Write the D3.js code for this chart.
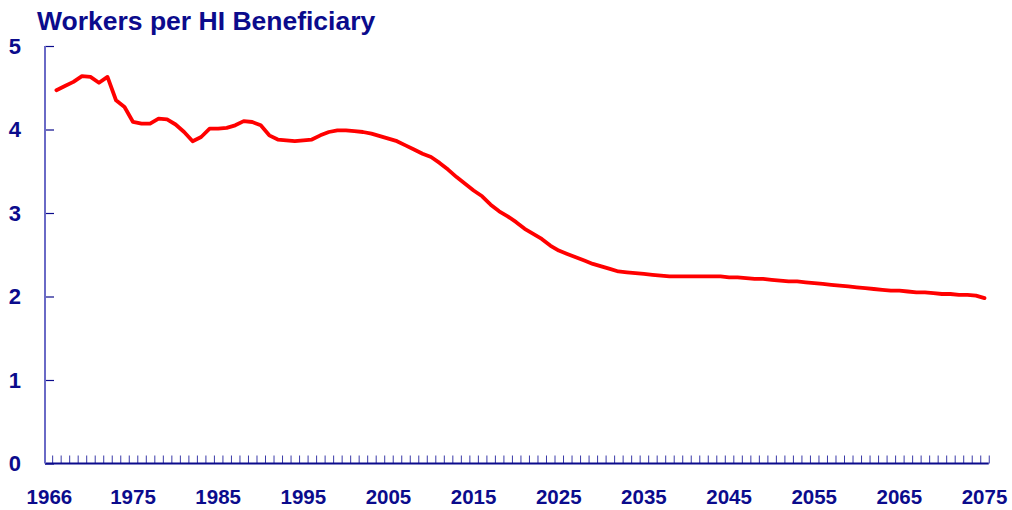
<!DOCTYPE html>
<html>
<head>
<meta charset="utf-8">
<script src="https://cdn.jsdelivr.net/npm/d3@7"></script>
<style>
  html, body { margin: 0; padding: 0; background: #ffffff; }
  svg { display: block; font-family: Arial, "Liberation Sans", sans-serif; }
</style>
</head>
<body>
<svg id="chart" width="1012" height="510"></svg>
<script>
const title = "Workers per HI Beneficiary";
const years = d3.range(1966, 2076);
const workersPerBeneficiary = [
  4.47, 4.52, 4.57, 4.64, 4.63, 4.56, 4.63, 4.35, 4.27, 4.09,
  4.07, 4.07, 4.13, 4.12, 4.06, 3.97, 3.86, 3.91, 4.01, 4.01,
  4.02, 4.05, 4.10, 4.09, 4.05, 3.93, 3.88, 3.87, 3.86, 3.87,
  3.88, 3.93, 3.97, 3.99, 3.99, 3.98, 3.97, 3.95, 3.92, 3.89,
  3.86, 3.81, 3.76, 3.71, 3.67, 3.60, 3.52, 3.43, 3.35, 3.27,
  3.20, 3.10, 3.02, 2.96, 2.89, 2.81, 2.75, 2.69, 2.61, 2.55,
  2.51, 2.47, 2.43, 2.39, 2.36, 2.33, 2.30, 2.29, 2.28, 2.27,
  2.26, 2.25, 2.24, 2.24, 2.24, 2.24, 2.24, 2.24, 2.24, 2.23,
  2.23, 2.22, 2.21, 2.21, 2.20, 2.19, 2.18, 2.18, 2.17, 2.16,
  2.15, 2.14, 2.13, 2.12, 2.11, 2.10, 2.09, 2.08, 2.07, 2.07,
  2.06, 2.05, 2.05, 2.04, 2.03, 2.03, 2.02, 2.02, 2.01, 1.98
];
const xTickLabels = [1966, 1975, 1985, 1995, 2005, 2015, 2025, 2035, 2045, 2055, 2065, 2075];
const yTicks = [0, 1, 2, 3, 4, 5];

const navy = "#0b0b8c";
const svg = d3.select("#chart");

const axisX = 45;
const x = d3.scaleLinear().domain([1966, 2075]).range([56.4, 984.5]);
const y = d3.scaleLinear().domain([0, 5]).range([463.5, 46]);

// Title
svg.append("text")
  .attr("x", 37).attr("y", 30)
  .attr("font-size", 26.5).attr("font-weight", "bold")
  .attr("fill", navy)
  .text(title);

// X axis: ticks at year boundaries
const boundaries = years.map(d => d - 0.5).concat([2075.5]);
const gx = svg.append("g").attr("transform", `translate(0,${y(0)})`)
  .call(d3.axisBottom(x).tickValues(boundaries).tickSize(-8).tickFormat(""));
gx.select(".domain").remove();
gx.selectAll(".tick line").attr("stroke", "#3a3aa8").attr("stroke-width", 1);

svg.append("line")
  .attr("x1", axisX).attr("x2", x(2075.5))
  .attr("y1", y(0)).attr("y2", y(0))
  .attr("stroke", navy).attr("stroke-width", 2);

// X labels
svg.append("g").selectAll("text").data(xTickLabels).join("text")
  .attr("x", d => x(d))
  .attr("dx", (d, i) => i === 0 ? -7 : 0)
  .attr("y", 504)
  .attr("text-anchor", "middle")
  .attr("font-size", 20.5).attr("font-weight", "bold")
  .attr("fill", navy)
  .text(d => d);

// Y axis
const gy = svg.append("g").attr("transform", `translate(${axisX},0)`)
  .call(d3.axisLeft(y).tickValues(yTicks).tickSize(-9).tickPadding(24).tickFormat(d3.format("d")));
gy.select(".domain").remove();
gy.selectAll(".tick line").attr("stroke", navy).attr("stroke-width", 1.2);
gy.selectAll(".tick text")
  .attr("font-size", 22).attr("font-weight", "bold")
  .attr("font-family", "Arial, 'Liberation Sans', sans-serif")
  .attr("fill", navy);

svg.append("line")
  .attr("x1", axisX).attr("x2", axisX)
  .attr("y1", y(5)).attr("y2", y(0))
  .attr("stroke", "#6a6ac6").attr("stroke-width", 2);

// Line
const line = d3.line()
  .x((d, i) => x(years[i]))
  .y(d => y(d));

svg.append("path")
  .datum(workersPerBeneficiary)
  .attr("d", line)
  .attr("fill", "none")
  .attr("stroke", "#ff0000")
  .attr("stroke-width", 3.8)
  .attr("stroke-linejoin", "round")
  .attr("stroke-linecap", "round");
</script>
</body>
</html>
